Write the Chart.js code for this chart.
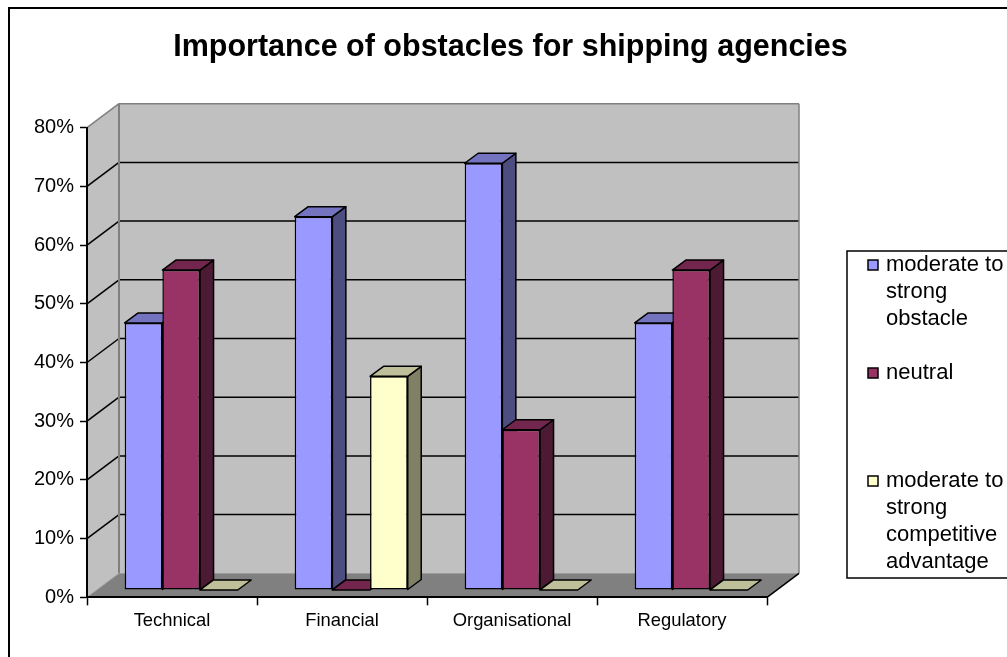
<!DOCTYPE html>
<html>
<head>
<meta charset="utf-8">
<title>Importance of obstacles for shipping agencies</title>
<script src="https://cdn.jsdelivr.net/npm/chart.js@4/dist/chart.umd.min.js"></script>
<style>
    html, body { margin: 0; padding: 0; background: #fff; overflow: hidden; }
    #wrap { position: absolute; left: 0; top: 0; width: 1021px; height: 657px; }
</style>
</head>
<body>
<div id="wrap"><canvas id="chart" width="1021" height="657"></canvas></div>
<script>
// Chart data
const categories = ['Technical', 'Financial', 'Organisational', 'Regulatory'];
const seriesNames = [
    ['moderate to', 'strong', 'obstacle'],
    ['neutral'],
    ['moderate to', 'strong', 'competitive', 'advantage']
];
const strongObstacle = [45.5, 63.6, 72.7, 45.5];
const neutral = [54.5, 0, 27.3, 54.5];
const competitiveAdvantage = [0, 36.4, 0, 0];
const yTicks = [0, 10, 20, 30, 40, 50, 60, 70, 80];

const frontColors = ['#9999FF', '#993366', '#FFFFCC'];
const topColors = ['#7373BF', '#73264D', '#BFBF99'];
const sideColors = ['#4D4D80', '#4D1A33', '#808066'];

const FONT = '"Liberation Sans", Arial, sans-serif';

// Fake 3D geometry, in pixels
const WALL_DX = 32, WALL_DY = -24;   // depth of the whole box
const BAR_DX = 9.2, BAR_DY = -7.3;   // gap between box front and bar front
const DEPTH_DX = 13.5, DEPTH_DY = -10; // depth of one bar

function poly(ctx, pts, fill, stroke, lineWidth) {
    ctx.beginPath();
    pts.forEach((p, i) => i ? ctx.lineTo(p[0], p[1]) : ctx.moveTo(p[0], p[1]));
    ctx.closePath();
    if (fill) {
        ctx.fillStyle = fill;
        ctx.fill();
    }
    if (stroke) {
        ctx.strokeStyle = stroke;
        ctx.lineWidth = lineWidth;
        ctx.lineJoin = 'round';
        ctx.stroke();
    }
}

function line(ctx, x1, y1, x2, y2, color, lineWidth) {
    ctx.beginPath();
    ctx.moveTo(x1, y1);
    ctx.lineTo(x2, y2);
    ctx.strokeStyle = color;
    ctx.lineWidth = lineWidth;
    ctx.stroke();
}

// Outer frame, walls, floor and wall gridlines
const boxPlugin = {
    id: 'box3d',
    beforeDraw(chart) {
        const ctx = chart.ctx;
        const a = chart.chartArea;
        const y = chart.scales.y;
        const backL = a.left + WALL_DX, backR = a.right + WALL_DX;
        const backT = a.top + WALL_DY, backB = a.bottom + WALL_DY;

        ctx.save();
        ctx.fillStyle = '#fff';
        ctx.fillRect(0, 0, chart.width, chart.height);
        ctx.strokeStyle = '#000';
        ctx.lineWidth = 2;
        ctx.strokeRect(9, 8, chart.width + 20, chart.height + 20);

        poly(ctx, [[a.left, a.top], [backL, backT], [backL, backB], [a.left, a.bottom]], '#C0C0C0');
        poly(ctx, [[backL, backT], [backR, backT], [backR, backB], [backL, backB]], '#C0C0C0');
        poly(ctx, [[a.left, a.bottom], [backL, backB], [backR, backB], [a.right, a.bottom]], '#808080');

        y.ticks.forEach((t, i) => {
            if (t.value === 0 || t.value === yTicks[yTicks.length - 1]) return;
            const py = y.getPixelForTick(i);
            line(ctx, a.left, py, backL, py + WALL_DY, '#000', 1.5);
            line(ctx, backL, py + WALL_DY, backR, py + WALL_DY, '#000', 1.5);
        });

        // gray outline of the walls
        line(ctx, a.left, a.top, backL, backT, '#808080', 1.5);
        line(ctx, backL, backT, backR, backT, '#808080', 1.5);
        line(ctx, backL, backT, backL, backB, '#808080', 2);
        line(ctx, backR, backT, backR, backB, '#808080', 1.5);
        line(ctx, a.left, a.bottom, backL, backB, '#A0A0A0', 1);
        line(ctx, a.right, a.bottom, backR, backB, '#000', 1.5);
        ctx.restore();
    },
    // Series have to paint left to right so a bar covers its left neighbour's side face.
    // The library's own order is the opposite, so call the controllers here instead.
    beforeDatasetsDraw(chart) {
        const ctx = chart.ctx;
        chart.getSortedVisibleDatasetMetas().forEach(meta => {
            const s = meta.index;
            ctx.save();
            ctx.translate(BAR_DX, BAR_DY);
            meta.data.forEach(el => {
                const p = el.getProps(['x', 'y', 'base', 'width'], true);
                const l = p.x - p.width / 2, r = p.x + p.width / 2;
                if (p.base - p.y > 0.5) {
                    poly(ctx, [[r, p.y], [r + DEPTH_DX, p.y + DEPTH_DY], [r + DEPTH_DX, p.base + DEPTH_DY], [r, p.base]],
                        sideColors[s], '#000', 1.5);
                }
                poly(ctx, [[l, p.y], [l + DEPTH_DX, p.y + DEPTH_DY], [r + DEPTH_DX, p.y + DEPTH_DY], [r, p.y]],
                    topColors[s], '#000', 1.5);
            });
            meta.controller.draw();
            ctx.restore();
        });
        return false;
    }
};

// Legend with the uneven line layout of the original, takes up the right side of the chart
const legendPlugin = {
    id: 'sideLegend',
    beforeInit(chart) {
        const box = {
            position: 'right',
            weight: 100,
            fullSize: false,
            options: {},
            width: 254,
            height: 0,
            isHorizontal: () => false,
            update(maxWidth, maxHeight) {
                box.width = 254;
                box.height = maxHeight;
            },
            draw() {
                const ctx = chart.ctx;
                const left = chart.chartArea.right + 80;
                const top = 251;
                ctx.save();
                ctx.fillStyle = '#fff';
                ctx.fillRect(left, top, 200, 327);
                ctx.strokeStyle = '#000';
                ctx.lineWidth = 1.5;
                ctx.strokeRect(left, top, 200, 327);
                ctx.font = '22px ' + FONT;
                ctx.textBaseline = 'middle';
                seriesNames.forEach((lines, s) => {
                    const y0 = 265 + s * 108;
                    ctx.fillStyle = frontColors[s];
                    ctx.fillRect(left + 21, y0 - 5, 10, 10);
                    ctx.strokeStyle = '#000';
                    ctx.lineWidth = 1.5;
                    ctx.strokeRect(left + 21, y0 - 5, 10, 10);
                    ctx.fillStyle = '#000';
                    lines.forEach((txt, i) => ctx.fillText(txt, left + 39, y0 + i * 27));
                });
                ctx.restore();
            }
        };
        Chart.layouts.addBox(chart, box);
    }
};

function makeDataset(values, s) {
    return {
        label: seriesNames[s].join(' '),
        data: values,
        backgroundColor: frontColors[s],
        borderColor: '#000',
        borderWidth: 1.5,
        borderSkipped: false
    };
}

new Chart(document.getElementById('chart'), {
    type: 'bar',
    data: {
        labels: categories,
        datasets: [
            makeDataset(strongObstacle, 0),
            makeDataset(neutral, 1),
            makeDataset(competitiveAdvantage, 2)
        ]
    },
    plugins: [boxPlugin, legendPlugin],
    options: {
        responsive: false,
        animation: false,
        devicePixelRatio: 1,
        layout: { padding: 0 },
        datasets: { bar: { categoryPercentage: 0.665, barPercentage: 1 } },
        plugins: {
            legend: { display: false },
            tooltip: { enabled: false },
            title: {
                display: true,
                text: 'Importance of obstacles for shipping agencies',
                color: '#000',
                font: { family: FONT, size: 30.5, weight: 'bold', lineHeight: 1.2 },
                padding: { top: 29, bottom: 62.1 }
            }
        },
        scales: {
            x: {
                afterFit(scale) { scale.height = 59.7; },
                grid: { drawOnChartArea: false, drawTicks: true, tickLength: 8, tickColor: '#000', tickWidth: 1.5 },
                border: { color: '#000', width: 2 },
                ticks: { color: '#000', font: { family: FONT, size: 18.4 }, padding: 5, maxRotation: 0 }
            },
            y: {
                min: 0,
                max: 80,
                afterFit(scale) { scale.width = 87; },
                afterBuildTicks(scale) { scale.ticks = yTicks.map(v => ({ value: v })); },
                grid: { drawOnChartArea: false, drawTicks: true, tickLength: 7, tickColor: '#000', tickWidth: 1.5 },
                border: { color: '#000', width: 2 },
                ticks: {
                    color: '#000',
                    font: { family: FONT, size: 20 },
                    padding: 6,
                    callback: v => v + '%'
                }
            }
        }
    }
});
</script>
</body>
</html>
